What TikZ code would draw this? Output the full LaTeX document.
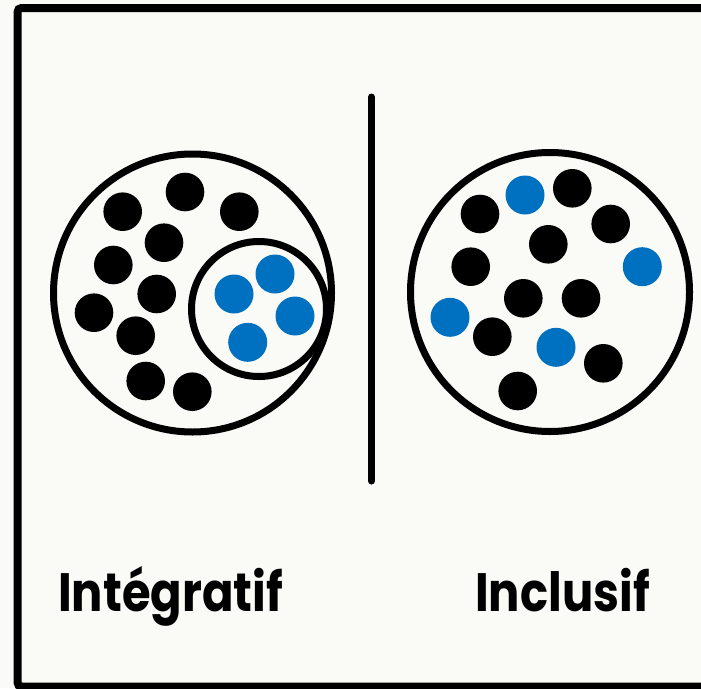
\documentclass[tikz,border=0pt]{standalone}
\usepackage{fontspec}
\setmainfont{Poppins}
\usepackage{xcolor}
\definecolor{inclblue}{HTML}{0070C0}
\definecolor{paper}{RGB}{250,250,246}
\begin{document}
\begin{tikzpicture}[x=1pt,y=-1pt,
  ring/.style={draw=black,line width=7pt,circle,inner sep=0pt},
  dotblack/.style={fill=black},
  dotblue/.style={fill=inclblue},
  titletext/.style={font=\bfseries\fontsize{54}{60}\selectfont,text=black,anchor=base,inner sep=0pt,xscale=0.86}]
\useasboundingbox (0,0) rectangle (701,688);
\clip (0,0) rectangle (701,688);
\fill[paper] (0,0) rectangle (701,688);
\draw[line width=8pt,rounded corners=4pt] (17.5,8) rectangle (740,686.5);
% separator
\coordinate (septop) at (371.5,97);
\coordinate (sepbot) at (371.5,481);
\draw[line width=7pt,line cap=round] (septop) -- (sepbot);
% integratif
\node[ring,minimum size=278pt] (integ) at (192.5,293) {};
\node[ring,minimum size=135pt] (group) at (259,309) {};
\foreach \p in {(185,192),(122.7,211.7),(239.3,211.7),(164,242.7),(113.3,265),
  (156.7,294),(94,312.7),(135.7,335.7),(145.7,381),(192.3,391.7)}
  \fill[dotblack] \p circle[radius=19.3];
\foreach \p in {(234,294),(275,274),(295,316),(247.7,342.3)}
  \fill[dotblue] \p circle[radius=19.5];
% inclusif
\node[ring,minimum size=279pt] (incl) at (550,292) {};
\foreach \p in {(572.3,188.3),(480,214),(610.7,224),(548.3,244.3),(470.7,266.7),
  (523.3,298.3),(581,298.3),(492.3,336.7),(603.3,363.3),(517.7,391)}
  \fill[dotblack] \p circle[radius=19.3];
\foreach \p in {(525,195),(642.3,266.7),(450,317.3),(556,347.3)}
  \fill[dotblue] \p circle[radius=19.5];
% labels
\node[titletext] (integlabel) at (170.5,611.7) {Intégratif};
\node[titletext] (incllabel) at (562.5,611.7) {Inclusif};
\end{tikzpicture}
\end{document}
